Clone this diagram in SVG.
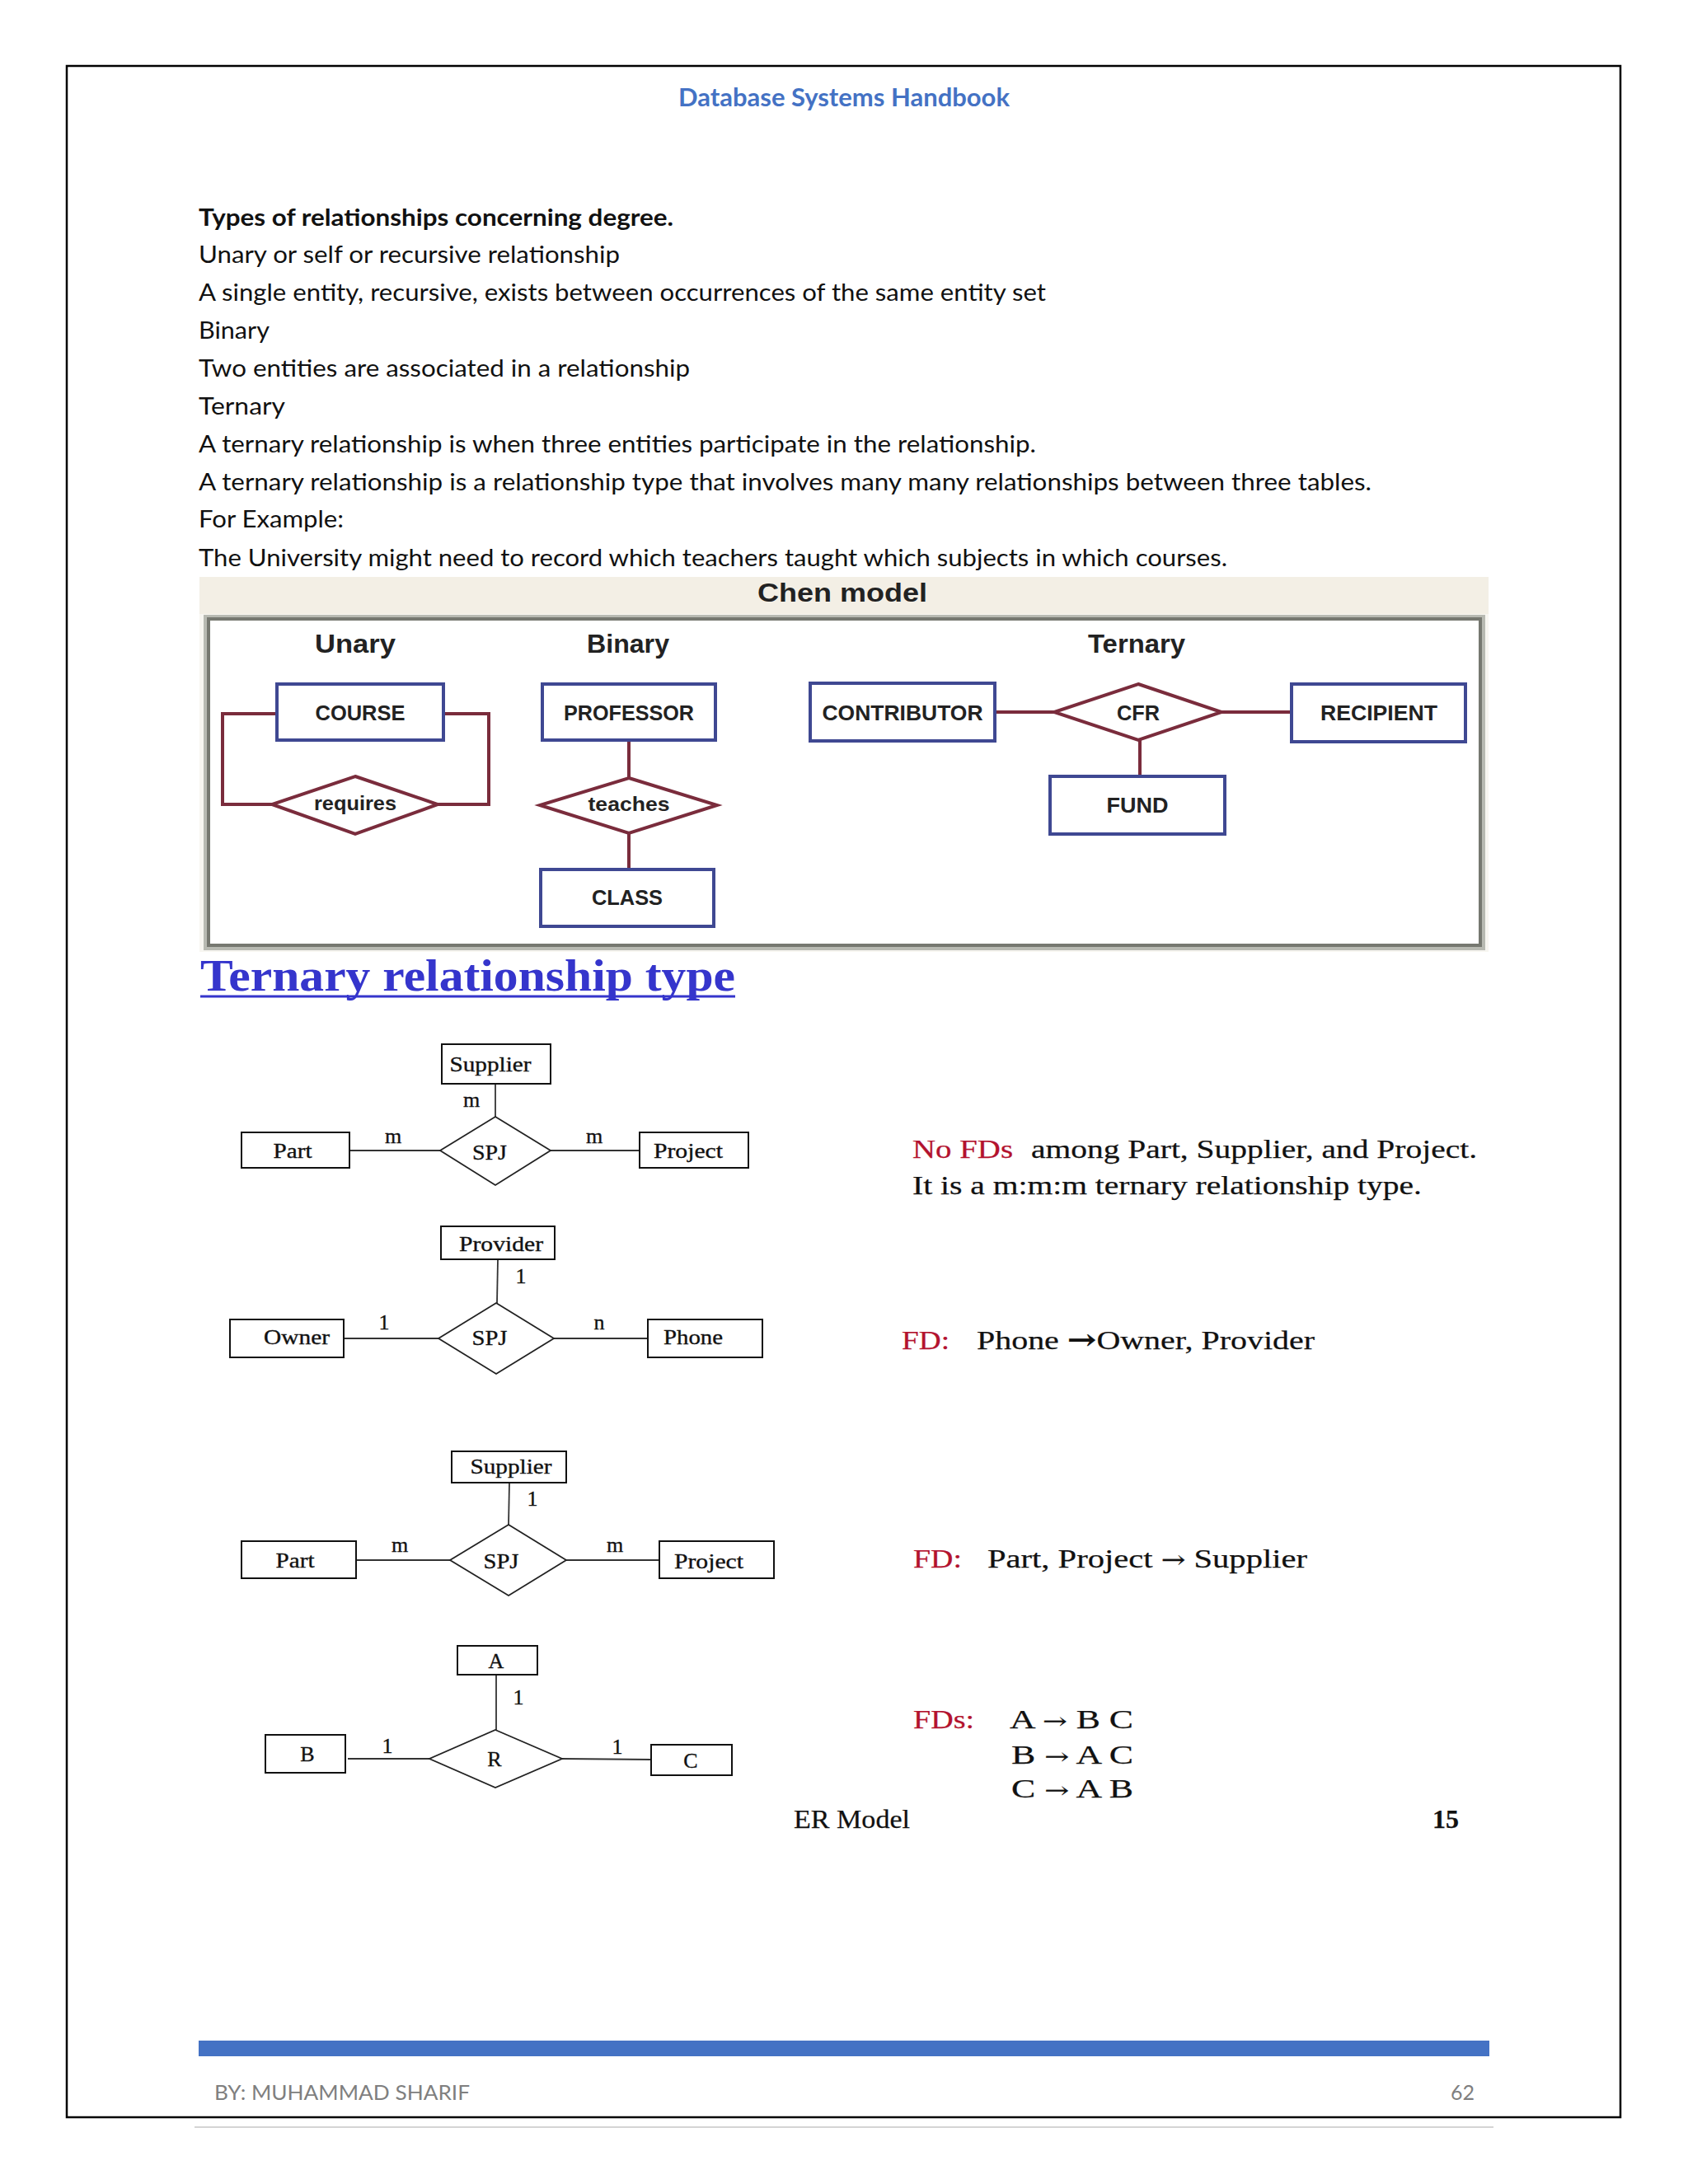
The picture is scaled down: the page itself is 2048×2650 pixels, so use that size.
<svg xmlns="http://www.w3.org/2000/svg" width="2048" height="2650" viewBox="0 0 2048 2650">
<style>
.body{font-family:Lato,"Liberation Sans",sans-serif;font-size:29px;fill:#111}
.hdr{font-family:Lato,"Liberation Sans",sans-serif;font-size:30px;font-weight:bold;fill:#4472c4}
.foot{font-family:Lato,"Liberation Sans",sans-serif;font-size:25px;fill:#7f7f7f}
.ch{font-family:"Liberation Sans",Arial,sans-serif;font-weight:bold;fill:#222;text-anchor:middle}
.ent{fill:#fff;stroke:#3f4892;stroke-width:4}
.rel{fill:#fff;stroke:#7a2c3c;stroke-width:4}
.rl{fill:none;stroke:#7a2c3c;stroke-width:4}
.tm{font-family:"Liberation Serif","Times New Roman",serif;fill:#111}
.lab{font-size:26px;text-anchor:middle;stroke:#111;stroke-width:0.35}
.bx{fill:#fff;stroke:#111;stroke-width:2}
.dm{fill:#fff;stroke:#222;stroke-width:1.8}
.ln{stroke:#333;stroke-width:1.8;fill:none}
.fd{font-size:32px;stroke:#111;stroke-width:0.25}
.red{fill:#b3122e;stroke:#b3122e}
.ar{font-family:"DejaVu Serif","DejaVu Sans",serif}
</style>

<!-- page -->
<rect x="0" y="0" width="2048" height="2650" fill="#fff"/>
<rect x="81" y="80" width="1885" height="2489" fill="none" stroke="#000" stroke-width="2.5"/>
<line x1="236" y1="2581" x2="1812" y2="2581" stroke="#d4d4d4" stroke-width="2"/>

<text class="hdr" x="1024" y="129" text-anchor="middle" textLength="402" lengthAdjust="spacingAndGlyphs">Database Systems Handbook</text>

<g id="intro-text">
<text class="body" x="241" y="274" font-weight="bold" textLength="576" lengthAdjust="spacingAndGlyphs">Types of relationships concerning degree.</text>
<text class="body" x="241" y="319" textLength="511" lengthAdjust="spacingAndGlyphs">Unary or self or recursive relationship</text>
<text class="body" x="241" y="365" textLength="1028" lengthAdjust="spacingAndGlyphs">A single entity, recursive, exists between occurrences of the same entity set</text>
<text class="body" x="241" y="411" textLength="86" lengthAdjust="spacingAndGlyphs">Binary</text>
<text class="body" x="241" y="457" textLength="596" lengthAdjust="spacingAndGlyphs">Two entities are associated in a relationship</text>
<text class="body" x="241" y="503" textLength="105" lengthAdjust="spacingAndGlyphs">Ternary</text>
<text class="body" x="241" y="549" textLength="1016" lengthAdjust="spacingAndGlyphs">A ternary relationship is when three entities participate in the relationship.</text>
<text class="body" x="241" y="595" textLength="1423" lengthAdjust="spacingAndGlyphs">A ternary relationship is a relationship type that involves many many relationships between three tables.</text>
<text class="body" x="241" y="640" textLength="176" lengthAdjust="spacingAndGlyphs">For Example:</text>
<text class="body" x="241" y="687" textLength="1248" lengthAdjust="spacingAndGlyphs">The University might need to record which teachers taught which subjects in which courses.</text>
</g>

<!-- Chen model figure -->
<g id="chen-figure">
<rect x="242" y="700" width="1564" height="50" fill="#f3efe5"/>
<rect x="242" y="745" width="1564" height="410" fill="#f7f6f1"/>
<rect x="249" y="748" width="1551" height="403" fill="#fff" stroke="#b8bab2" stroke-width="4"/>
<rect x="253" y="751" width="1543" height="396" fill="#fff" stroke="#767870" stroke-width="4"/>
<text class="ch" x="1022" y="730" font-size="31" textLength="206" lengthAdjust="spacingAndGlyphs">Chen model</text>
<text class="ch" x="431" y="792" font-size="31" textLength="98" lengthAdjust="spacingAndGlyphs">Unary</text>
<text class="ch" x="762" y="792" font-size="31" textLength="100" lengthAdjust="spacingAndGlyphs">Binary</text>
<text class="ch" x="1379" y="792" font-size="31" textLength="118" lengthAdjust="spacingAndGlyphs">Ternary</text>
</g>

<g id="chen-connectors">
<path class="rl" d="M336,866 H270 V976 H330"/>
<path class="rl" d="M538,866 H593 V976 H531"/>
<line class="rl" x1="763" y1="898" x2="763" y2="944"/>
<line class="rl" x1="763" y1="1011" x2="763" y2="1055"/>
<line class="rl" x1="1207" y1="864" x2="1279" y2="864"/>
<line class="rl" x1="1482" y1="864" x2="1567" y2="864"/>
<line class="rl" x1="1383" y1="898" x2="1383" y2="942"/>
</g>

<g id="course">
<rect class="ent" x="336" y="830" width="202" height="68"/>
<text class="ch" x="437" y="874" font-size="26" textLength="109" lengthAdjust="spacingAndGlyphs">COURSE</text>
</g>
<g id="requires">
<polygon class="rel" points="431,942 531,976 431,1012 330,976"/>
<text class="ch" x="431" y="983" font-size="24" font-weight="normal" textLength="100" lengthAdjust="spacingAndGlyphs">requires</text>
</g>
<g id="professor">
<rect class="ent" x="658" y="830" width="210" height="68"/>
<text class="ch" x="763" y="874" font-size="26" textLength="158" lengthAdjust="spacingAndGlyphs">PROFESSOR</text>
</g>
<g id="teaches">
<polygon class="rel" points="763,944 870,977 763,1011 655,977"/>
<text class="ch" x="763" y="984" font-size="24" font-weight="normal" textLength="99" lengthAdjust="spacingAndGlyphs">teaches</text>
</g>
<g id="class">
<rect class="ent" x="656" y="1055" width="210" height="69"/>
<text class="ch" x="761" y="1098" font-size="26" textLength="86" lengthAdjust="spacingAndGlyphs">CLASS</text>
</g>
<g id="contributor">
<rect class="ent" x="983" y="829" width="224" height="70"/>
<text class="ch" x="1095" y="874" font-size="26" textLength="195" lengthAdjust="spacingAndGlyphs">CONTRIBUTOR</text>
</g>
<g id="cfr">
<polygon class="rel" points="1381,830 1482,864 1381,898 1279,864"/>
<text class="ch" x="1381" y="874" font-size="26" font-weight="normal" textLength="52" lengthAdjust="spacingAndGlyphs">CFR</text>
</g>
<g id="recipient">
<rect class="ent" x="1567" y="830" width="211" height="70"/>
<text class="ch" x="1673" y="874" font-size="26" textLength="142" lengthAdjust="spacingAndGlyphs">RECIPIENT</text>
</g>
<g id="fund">
<rect class="ent" x="1274" y="942" width="212" height="70"/>
<text class="ch" x="1380" y="986" font-size="26" textLength="75" lengthAdjust="spacingAndGlyphs">FUND</text>
</g>

<!-- Heading -->
<g id="heading">
<text class="tm" x="243" y="1202" font-size="54" font-weight="bold" style="fill:#3535cc" textLength="649" lengthAdjust="spacingAndGlyphs">Ternary relationship type</text>
<line x1="243" y1="1209" x2="892" y2="1209" stroke="#3535cc" stroke-width="3"/>
</g>

<!-- ER connectors -->
<g id="er-connectors">
<line class="ln" x1="601" y1="1315" x2="601" y2="1355"/>
<line class="ln" x1="424" y1="1396" x2="534" y2="1396"/>
<line class="ln" x1="668" y1="1396" x2="776" y2="1396"/>
<line class="ln" x1="604" y1="1528" x2="603" y2="1581"/>
<line class="ln" x1="417" y1="1624" x2="532" y2="1624"/>
<line class="ln" x1="672" y1="1624" x2="786" y2="1624"/>
<line class="ln" x1="618" y1="1799" x2="617" y2="1850"/>
<line class="ln" x1="432" y1="1893" x2="546" y2="1893"/>
<line class="ln" x1="687" y1="1893" x2="800" y2="1893"/>
<line class="ln" x1="602" y1="2032" x2="602" y2="2099"/>
<line class="ln" x1="422" y1="2134" x2="521" y2="2134"/>
<line class="ln" x1="682" y1="2134" x2="790" y2="2135"/>
</g>

<!-- Diagram 1 -->
<g id="d1-supplier"><rect class="bx" x="536" y="1267" width="132" height="48"/><text class="tm lab" x="595" y="1300" textLength="99" lengthAdjust="spacingAndGlyphs">Supplier</text></g>
<g id="d1-part"><rect class="bx" x="293" y="1374" width="131" height="43"/><text class="tm lab" x="355" y="1405" textLength="47" lengthAdjust="spacingAndGlyphs">Part</text></g>
<g id="d1-spj"><polygon class="dm" points="601,1355 668,1396 601,1438 534,1396"/><text class="tm lab" x="594" y="1407" textLength="42" lengthAdjust="spacingAndGlyphs">SPJ</text></g>
<g id="d1-project"><rect class="bx" x="776" y="1374" width="132" height="43"/><text class="tm lab" x="835" y="1405" textLength="84" lengthAdjust="spacingAndGlyphs">Project</text></g>
<g id="d1-card" class="tm">
<text class="lab" x="572" y="1343">m</text>
<text class="lab" x="477" y="1387">m</text>
<text class="lab" x="721" y="1387">m</text>
</g>

<!-- Diagram 2 -->
<g id="d2-provider"><rect class="bx" x="535" y="1488" width="138" height="40"/><text class="tm lab" x="608" y="1518" textLength="102" lengthAdjust="spacingAndGlyphs">Provider</text></g>
<g id="d2-owner"><rect class="bx" x="279" y="1601" width="138" height="46"/><text class="tm lab" x="360" y="1631" textLength="80" lengthAdjust="spacingAndGlyphs">Owner</text></g>
<g id="d2-spj"><polygon class="dm" points="602,1581 672,1624 602,1667 532,1624"/><text class="tm lab" x="594" y="1632" textLength="43" lengthAdjust="spacingAndGlyphs">SPJ</text></g>
<g id="d2-phone"><rect class="bx" x="786" y="1601" width="139" height="46"/><text class="tm lab" x="841" y="1631" textLength="72" lengthAdjust="spacingAndGlyphs">Phone</text></g>
<g id="d2-card" class="tm">
<text class="lab" x="632" y="1557">1</text>
<text class="lab" x="466" y="1613">1</text>
<text class="lab" x="727" y="1613">n</text>
</g>

<!-- Diagram 3 -->
<g id="d3-supplier"><rect class="bx" x="548" y="1761" width="139" height="38"/><text class="tm lab" x="620" y="1788" textLength="99" lengthAdjust="spacingAndGlyphs">Supplier</text></g>
<g id="d3-part"><rect class="bx" x="293" y="1870" width="139" height="45"/><text class="tm lab" x="358" y="1902" textLength="47" lengthAdjust="spacingAndGlyphs">Part</text></g>
<g id="d3-spj"><polygon class="dm" points="617,1850 687,1893 617,1936 546,1893"/><text class="tm lab" x="608" y="1903" textLength="43" lengthAdjust="spacingAndGlyphs">SPJ</text></g>
<g id="d3-project"><rect class="bx" x="800" y="1870" width="139" height="45"/><text class="tm lab" x="860" y="1903" textLength="84" lengthAdjust="spacingAndGlyphs">Project</text></g>
<g id="d3-card" class="tm">
<text class="lab" x="646" y="1827">1</text>
<text class="lab" x="485" y="1883">m</text>
<text class="lab" x="746" y="1883">m</text>
</g>

<!-- Diagram 4 -->
<g id="d4-a"><rect class="bx" x="555" y="1997" width="97" height="35"/><text class="tm lab" x="602" y="2024">A</text></g>
<g id="d4-b"><rect class="bx" x="322" y="2105" width="97" height="46"/><text class="tm lab" x="373" y="2137">B</text></g>
<g id="d4-r"><polygon class="dm" points="601,2099 682,2134 601,2169 521,2134"/><text class="tm lab" x="600" y="2143">R</text></g>
<g id="d4-c"><rect class="bx" x="790" y="2117" width="98" height="37"/><text class="tm lab" x="838" y="2145">C</text></g>
<g id="d4-card" class="tm">
<text class="lab" x="629" y="2068">1</text>
<text class="lab" x="470" y="2127">1</text>
<text class="lab" x="749" y="2128">1</text>
</g>

<!-- FD notes -->
<g id="fd-notes" class="tm">
<text class="fd red" x="1107" y="1405" textLength="122" lengthAdjust="spacingAndGlyphs">No FDs</text>
<text class="fd" x="1251" y="1405" textLength="541" lengthAdjust="spacingAndGlyphs">among Part, Supplier, and Project.</text>
<text class="fd" x="1107" y="1449" textLength="618" lengthAdjust="spacingAndGlyphs">It is a m:m:m ternary relationship type.</text>
<text class="fd red" x="1094" y="1637" textLength="58" lengthAdjust="spacingAndGlyphs">FD:</text>
<text class="fd" x="1185" y="1637" textLength="410" lengthAdjust="spacingAndGlyphs">Phone <tspan class="ar" font-weight="bold" font-size="34">→</tspan>Owner, Provider</text>
<text class="fd red" x="1108" y="1902" textLength="59" lengthAdjust="spacingAndGlyphs">FD:</text>
<text class="fd" x="1198" y="1902" textLength="388" lengthAdjust="spacingAndGlyphs">Part, Project <tspan class="ar" font-size="28">→</tspan> Supplier</text>
<text class="fd red" x="1108" y="2097" textLength="74" lengthAdjust="spacingAndGlyphs">FDs:</text>
<text class="fd" x="1225" y="2097" textLength="150" lengthAdjust="spacingAndGlyphs">A <tspan class="ar" font-size="26">→</tspan> B C</text>
<text class="fd" x="1227" y="2140" textLength="148" lengthAdjust="spacingAndGlyphs">B <tspan class="ar" font-size="26">→</tspan> A C</text>
<text class="fd" x="1227" y="2181" textLength="148" lengthAdjust="spacingAndGlyphs">C <tspan class="ar" font-size="26">→</tspan> A B</text>
<text class="fd" x="963" y="2218" textLength="141" lengthAdjust="spacingAndGlyphs">ER Model</text>
<text class="fd" x="1770" y="2218" font-weight="bold" text-anchor="end">15</text>
</g>

<!-- footer -->
<rect x="241" y="2476" width="1566" height="19" fill="#4472c4"/>
<text class="foot" x="260" y="2548" textLength="310" lengthAdjust="spacingAndGlyphs">BY: MUHAMMAD SHARIF</text>
<text class="foot" x="1789" y="2548" text-anchor="end">62</text>
</svg>
